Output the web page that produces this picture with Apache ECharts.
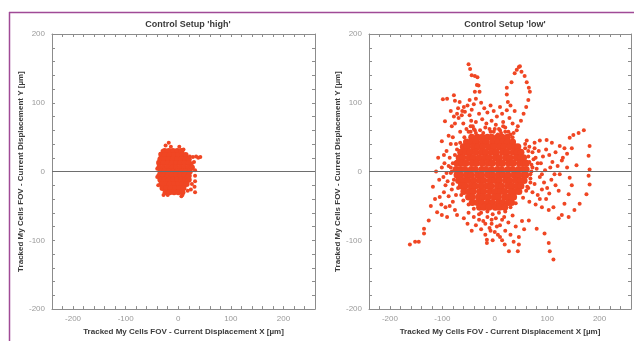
<!DOCTYPE html>
<html>
<head>
<meta charset="utf-8">
<script src="https://cdn.jsdelivr.net/npm/echarts@6/dist/echarts.min.js"></script>
<style>
  html, body { margin: 0; padding: 0; background: #fff; }
  #chart { width: 634px; height: 341px; }
</style>
</head>
<body>
<div id="chart"></div>
<script>
// panel titles and axis texts
const panelTitles = ["Control Setup 'high'", "Control Setup 'low'"];
const xName = "Tracked My Cells FOV - Current Displacement X [µm]";
const yName = "Tracked My Cells FOV - Current Displacement Y [µm]";
const xRange = [-240, 260];
const yRange = [-200, 200];
const labelStep = 100;

// 'high': dense blob, written as rows [y, [x...]]
const highRows = [
  [30, [-26, -18, -10, -2, 6]],
  [24, [-32, -24, -16, -8, 0, 8, 14]],
  [18, [-34, -26, -18, -10, -2, 6, 14, 20]],
  [12, [-36, -28, -20, -12, -4, 4, 12, 20]],
  [6, [-36, -28, -20, -12, -4, 4, 12, 20, 26]],
  [0, [-34, -26, -18, -10, -2, 6, 14, 22]],
  [-6, [-36, -28, -20, -12, -4, 4, 12, 20]],
  [-12, [-34, -26, -18, -10, -2, 6, 14, 20]],
  [-18, [-32, -24, -16, -8, 0, 8, 16]],
  [-24, [-30, -22, -14, -6, 2, 10]],
  [-30, [-24, -16, -8, 0, 8]]
];
const highExtra = [
  [-24, 38], [-18, 42], [-14, 36], [2, 36], [8, 26], [14, 24], [22, 22], [28, 21],
  [34, 22], [38, 20], [42, 21], [30, 14], [32, 2], [32, -6], [32, -14], [31, -22],
  [32, -30], [8, -34], [6, -36], [-20, -34], [-38, 14], [-38, -20], [26, -18], [-30, 30],
  [-40, 4], [-40, -8], [-28, -34], [18, -28], [24, -26], [26, 12], [-34, 26], [10, 32]
];

// 'low': dense core rows plus the scattered track points around it
const lowRows = [
  [50, [-44, -33, -24, -14, -6, 5, 14, 24]],
  [43, [-54, -45, -36, -24, -16, -4, 6, 15, 24, 34]],
  [36, [-60, -53, -41, -32, -23, -11, -2, 9, 17, 28, 38, 44]],
  [28, [-65, -55, -47, -36, -25, -17, -6, 3, 15, 23, 35, 43, 50]],
  [20, [-68, -61, -49, -41, -30, -19, -11, 1, 9, 21, 29, 41, 49, 55]],
  [12, [-72, -63, -55, -43, -35, -24, -13, -5, 7, 15, 27, 35, 47, 55, 60]],
  [3, [-74, -66, -57, -45, -37, -25, -17, -6, 5, 13, 25, 34, 45, 53, 60]],
  [-5, [-72, -65, -53, -45, -33, -25, -13, -4, 7, 16, 25, 37, 45, 56, 59]],
  [-13, [-69, -59, -51, -40, -29, -21, -9, 1, 9, 21, 29, 40, 49, 56]],
  [-21, [-64, -57, -45, -37, -26, -15, -7, 5, 13, 25, 33, 44, 50]],
  [-29, [-59, -49, -41, -29, -21, -9, 1, 11, 19, 31, 39, 46]],
  [-37, [-50, -43, -31, -22, -13, -1, 7, 19, 27, 36]],
  [-45, [-43, -33, -25, -13, -5, 7, 15, 26, 32]],
  [-52, [-29, -21, -11, 1, 9, 19]]
];
const lowEdge = [
  [-50, 58], [-40, 62], [-28, 60], [-18, 64], [-8, 58], [0, 62], [10, 60], [20, 58],
  [30, 54], [-36, 56], [-22, 56], [6, 54], [-58, 50], [34, 50], [-46, 66], [16, 66],
  [66, 14], [70, 0], [68, -16], [64, 30], [58, 40], [60, -28], [54, -38], [72, 6],
  [68, -4], [58, 34], [74, 18], [64, -24],
  [-80, 12], [-82, 0], [-78, -12], [-76, 24], [-72, 32], [-70, -24], [-64, -34], [-66, 42],
  [-84, 6], [-80, -18], [-74, 40], [-60, -42],
  [-40, -54], [-26, -60], [-14, -58], [-4, -62], [8, -60], [20, -58], [30, -52], [40, -46],
  [-50, -48], [-6, -70], [-18, -76], [4, -80], [-10, -82], [14, -70], [-30, -70]
];
const lowTracks = [
  [-50, 156], [-47, 149], [-44, 140], [-38, 139], [-33, 137], [-34, 126], [-31, 125], [-38, 116],
  [-29, 116], [-36, 106], [-40, 98], [-44, 90], [-48, 82], [-45, 74], [-42, 66], [-38, 60],
  [23, 89], [25, 101], [23, 112], [23, 122], [32, 130], [38, 143], [42, 148], [46, 152],
  [48, 153], [51, 145], [57, 139], [61, 130], [65, 122], [67, 116], [64, 104], [60, 94],
  [55, 84], [50, 74], [44, 66],
  [-99, 105], [-91, 106], [-78, 111], [-76, 103], [-67, 101], [-59, 94], [-57, 87], [-63, 82],
  [-69, 78], [-76, 70], [-82, 66], [-95, 73], [-88, 52], [-101, 44], [-97, 24], [-101, 6],
  [-98, -8], [-94, -20],
  [170, 60], [160, 56], [150, 53], [143, 49], [133, 34], [124, 37], [109, 42], [99, 46],
  [86, 45], [76, 42], [61, 45],
  [181, 37], [179, 23], [181, 3], [179, -6], [181, -19], [175, -33], [162, -47], [152, -56],
  [141, -66], [128, -63], [122, -68], [133, -47], [141, -33], [147, -20], [143, -9], [156, 9],
  [147, 34], [128, 16], [122, -28], [112, -52], [103, -56], [90, -52],
  [95, -90], [103, -104], [105, -116], [112, -128], [80, -83], [65, -71],
  [46, -95], [46, -106], [44, -116], [27, -116], [19, -106], [10, -95], [0, -88], [-15, -99],
  [-15, -104],
  [-162, -106], [-152, -102], [-145, -102], [-135, -90], [-135, -83], [-126, -71], [-110, -59],
  [-101, -63], [-91, -66], [-72, -63], [-59, -68], [-114, -40], [-105, -37], [-97, -30]
];
const lowScatter = [
  [-70, 92], [-62, 88], [-52, 96], [-48, 104], [-26, 100], [-20, 92], [-14, 86], [-8, 96],
  [-2, 88], [4, 80], [10, 94], [14, 84], [-30, 84], [-24, 76], [-16, 70], [-6, 74],
  [2, 68], [8, 62], [16, 72], [20, 64], [28, 78], [34, 70], [38, 88], [30, 96],
  [-60, 70], [-54, 62], [-66, 58], [-78, 80], [-84, 88], [-72, 84], [-46, 58], [-36, 72],
  [-10, 62], [-2, 58], [12, 56], [26, 58], [36, 56], [42, 60],
  [66, 36], [72, 28], [78, 20], [84, 30], [92, 22], [98, 32], [104, 24], [110, 14],
  [116, 28], [70, 10], [80, 4], [88, 12], [96, 2], [106, 6], [114, -4], [120, 8],
  [68, -10], [76, -18], [86, -8], [94, -16], [100, -24], [108, -12], [72, -30], [82, -34],
  [90, -26], [98, -40], [66, -44], [78, -48], [86, -40], [116, -20], [124, -4], [130, 20],
  [138, 6], [62, -22], [64, 22], [138, 26], [82, 12], [90, -4], [76, 34], [104, -32],
  [-84, 40], [-92, 30], [-86, 20], [-96, 12], [-84, -2], [-90, -14], [-82, -26], [-88, -36],
  [-80, -44], [-106, -12], [-112, 0], [-108, 20], [-118, -22], [-102, -48], [-80, 50], [-76, -56],
  [-122, -50], [-94, -52], [-92, -2], [-88, 8], [-74, -34], [-86, -50],
  [-50, -60], [-40, -66], [-30, -62], [-22, -72], [-14, -66], [-6, -76], [2, -68], [10, -78],
  [18, -66], [26, -74], [34, -64], [40, -80], [-36, -78], [-44, -86], [-26, -84], [-8, -86],
  [6, -92], [20, -86], [30, -92], [52, -72], [56, -84], [-52, -76], [-18, -92], [14, -100],
  [36, -102], [-4, -100]
];

function fromRows(rows) {
  const pts = [];
  rows.forEach(([y, xs]) => xs.forEach((x) => pts.push([x, y])));
  return pts;
}

const dotColor = "#f04623";
const frameColor = "#8c8c8c";
const font = "Liberation Sans";

const grids = [
  { left: 52, right: 319, top: 34, bottom: 28 },
  { left: 369, right: 3, top: 34, bottom: 28 }
];

function tickLabel(v) {
  return v % labelStep === 0 ? String(v) : "";
}

const xAxes = [];
const yAxes = [];
grids.forEach((g, i) => {
  const base = {
    gridIndex: i,
    type: "value",
    interval: 20,
    axisLine: { show: true, onZero: false, lineStyle: { color: frameColor, width: 1 } },
    axisTick: { show: true, inside: true, length: 3, lineStyle: { color: frameColor } },
    splitLine: { show: false }
  };
  xAxes.push({
    ...base, min: xRange[0], max: xRange[1], position: "bottom",
    name: xName, nameLocation: "middle", nameGap: 16,
    nameTextStyle: { fontFamily: font, fontSize: 8, fontWeight: "bold", color: "#3a3a3a" },
    axisLabel: { formatter: tickLabel, fontFamily: font, fontSize: 8, color: "#9a9a9a", margin: 6, showMinLabel: true, showMaxLabel: true, interval: 0 }
  });
  xAxes.push({
    ...base, min: xRange[0], max: xRange[1], position: "top",
    axisLabel: { show: false }
  });
  yAxes.push({
    ...base, min: yRange[0], max: yRange[1], position: "left",
    name: yName, nameLocation: "middle", nameGap: 26,
    nameTextStyle: { fontFamily: font, fontSize: 8, fontWeight: "bold", color: "#3a3a3a" },
    axisLabel: { formatter: tickLabel, fontFamily: font, fontSize: 8, color: "#9a9a9a", margin: 7, interval: 0 }
  });
  yAxes.push({
    ...base, min: yRange[0], max: yRange[1], position: "right",
    axisLabel: { show: false }
  });
});

function zeroLine(i) {
  return {
    type: "scatter", xAxisIndex: i * 2, yAxisIndex: i * 2, data: [], z: 1, silent: true,
    markLine: {
      silent: true, symbol: "none", label: { show: false },
      lineStyle: { color: "#6e6e6e", width: 1, type: "solid" },
      data: [{ yAxis: 0 }]
    }
  };
}

function dots(i, data, size) {
  return {
    type: "scatter", xAxisIndex: i * 2, yAxisIndex: i * 2, data, z: 3,
    symbolSize: size, itemStyle: { color: dotColor, opacity: 1 }, silent: true
  };
}

const chart = echarts.init(document.getElementById("chart"), null, { renderer: "canvas" });
chart.setOption({
  animation: false,
  backgroundColor: "#fff",
  textStyle: { fontFamily: font },
  title: panelTitles.map((t, i) => ({
    text: t,
    left: i === 0 ? 183 : 500,
    textAlign: "center",
    top: 15,
    textStyle: { fontFamily: font, fontSize: 9, fontWeight: "bold", color: "#3a3a3a" }
  })),
  graphic: [
    { type: "line", shape: { x1: 9, y1: 12.5, x2: 634, y2: 12.5 }, style: { stroke: "#a04a96", lineWidth: 1.5 } },
    { type: "line", shape: { x1: 9.5, y1: 12, x2: 9.5, y2: 341 }, style: { stroke: "#a04a96", lineWidth: 1.5 } }
  ],
  grid: grids,
  xAxis: xAxes,
  yAxis: yAxes,
  series: [
    zeroLine(0),
    zeroLine(1),
    dots(0, fromRows(highRows), 6),
    dots(0, highExtra, 4),
    dots(1, fromRows(lowRows), 7),
    dots(1, lowEdge, 4),
    dots(1, lowTracks, 4),
    dots(1, lowScatter, 4)
  ]
});
</script>
</body>
</html>
